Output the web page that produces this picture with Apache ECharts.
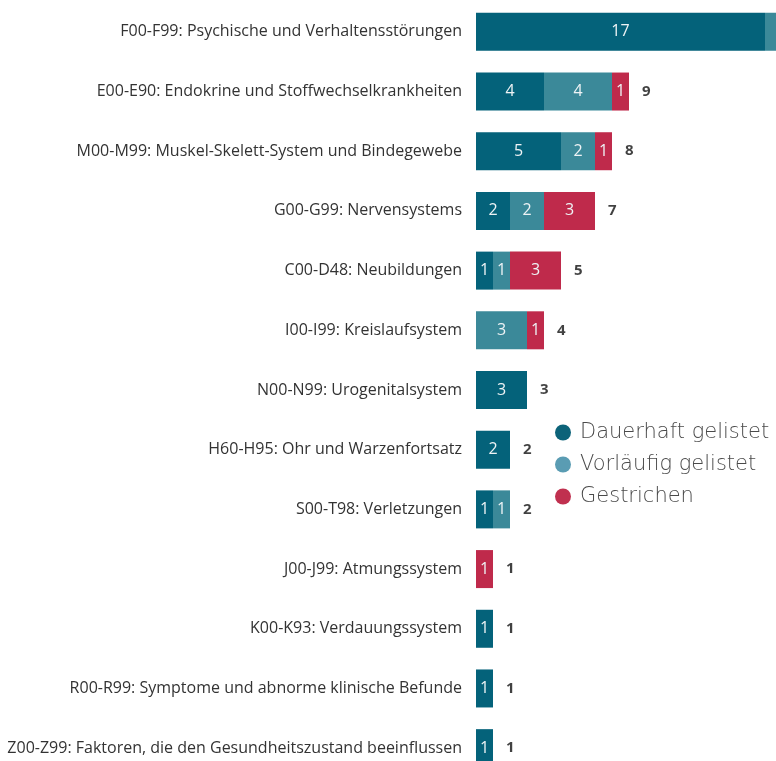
<!DOCTYPE html>
<html lang="de">
<head>
<meta charset="UTF-8">
<title>ICD-Kapitel</title>
<script src="https://cdn.jsdelivr.net/npm/echarts@6/dist/echarts.min.js"></script>
<style>
  html, body { margin: 0; padding: 0; background: #fff; overflow: hidden; }
  /* breiter als das Fenster: der erste Balken läuft rechts hinaus */
  #main { width: 986px; height: 778px; }
</style>
</head>
<body>
<div id="main"></div>
<script>
  // Kategorien (von oben nach unten)
  var categories = [
    'F00-F99: Psychische und Verhaltensstörungen',
    'E00-E90: Endokrine und Stoffwechselkrankheiten',
    'M00-M99: Muskel-Skelett-System und Bindegewebe',
    'G00-G99: Nervensystems',
    'C00-D48: Neubildungen',
    'I00-I99: Kreislaufsystem',
    'N00-N99: Urogenitalsystem',
    'H60-H95: Ohr und Warzenfortsatz',
    'S00-T98: Verletzungen',
    'J00-J99: Atmungssystem',
    'K00-K93: Verdauungssystem',
    'R00-R99: Symptome und abnorme klinische Befunde',
    'Z00-Z99: Faktoren, die den Gesundheitszustand beeinflussen'
  ];
  var dauerhaft  = [17, 4, 5, 2, 1, 0, 3, 2, 1, 0, 1, 1, 1];
  var vorlaeufig = [2, 4, 2, 2, 1, 3, 0, 0, 1, 0, 0, 0, 0];
  var gestrichen = [0, 1, 1, 3, 3, 1, 0, 0, 0, 1, 0, 0, 0];
  var totals     = [19, 9, 8, 7, 5, 4, 3, 2, 2, 1, 1, 1, 1];

  var chart = echarts.init(document.getElementById('main'));

  var segLabel = {
    show: true,
    position: 'inside',
    color: '#eef3f5',
    fontSize: 16,
    fontFamily: 'Open Sans',
    formatter: function (p) { return p.value ? p.value : ''; }
  };

  function barSeries(name, data, color) {
    return {
      name: name,
      type: 'bar',
      stack: 'gesamt',
      barWidth: 38,
      data: data,
      itemStyle: { color: color },
      label: segLabel,
      emphasis: { disabled: true }
    };
  }

  chart.setOption({
    animation: false,
    legend: {
      orient: 'vertical',
      left: 550,
      top: 417,
      icon: 'circle',
      itemWidth: 16,
      itemHeight: 16,
      itemGap: 11,
      data: [
        { name: 'Dauerhaft gelistet', itemStyle: { color: '#0c6379' } },
        { name: 'Vorläufig gelistet', itemStyle: { color: '#5a9cb3' } },
        { name: 'Gestrichen', itemStyle: { color: '#c0304f' } }
      ],
      textStyle: { color: '#4a4a4a', fontSize: 21, fontFamily: 'DejaVu Sans', fontWeight: 200, padding: [0, 0, 0, 4] }
    },
    grid: { left: 476, top: 2, right: 0, bottom: 0 },
    xAxis: { type: 'value', min: 0, max: 30, show: false },
    yAxis: {
      type: 'category',
      inverse: true,
      data: categories,
      axisLine: { show: false },
      axisTick: { show: false },
      axisLabel: { color: '#333', fontSize: 16, fontFamily: 'Open Sans', margin: 14 }
    },
    series: [
      barSeries('Dauerhaft gelistet', dauerhaft, '#04627a'),
      barSeries('Vorläufig gelistet', vorlaeufig, '#3b8999'),
      barSeries('Gestrichen', gestrichen, '#bf2a4b'),
      {
        name: 'Summe',
        type: 'scatter',
        symbolSize: 0,
        data: totals.map(function (t, i) { return [t, i]; }),
        label: {
          show: true,
          position: 'right',
          distance: 13,
          color: '#111',
          fontSize: 15,
          fontWeight: 'bold',
          fontFamily: 'Open Sans',
          formatter: function (p) { return p.value[0]; }
        },
        emphasis: { disabled: true }
      }
    ]
  });
</script>
</body>
</html>
